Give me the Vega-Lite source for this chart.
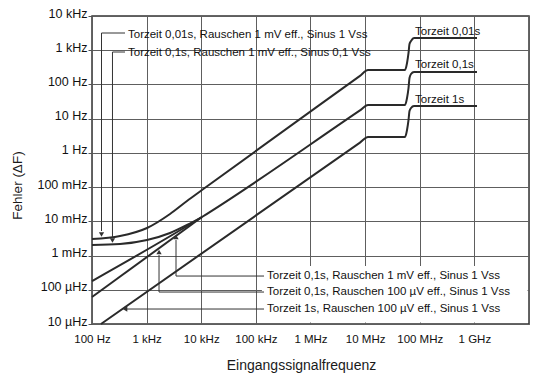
{
  "$schema": "https://vega.github.io/schema/vega-lite/v6.json",
  "width": 437,
  "height": 308,
  "autosize": "none",
  "padding": {"left": 92, "top": 16, "right": 8, "bottom": 55},
  "background": "white",
  "config": {
    "view": {"stroke": "#333333", "strokeWidth": 1.5},
    "font": "Liberation Sans",
    "axis": {"gridColor": "#5e5e5e", "gridWidth": 1, "gridOpacity": 1, "domain": false, "labelFont": "Liberation Sans", "titleFont": "Liberation Sans", "labelColor": "#111111", "titleColor": "#1a1a1a", "titleFontWeight": "normal"}
  },
  "datasets": {
    "box": [{"f": 129000, "f2": 9400000000, "e": 0.00001106, "e2": 0.000494}],
    "curves": [
      {"s": "A", "f": 100, "e": 0.00304},
      {"s": "A", "f": 326, "e": 0.00372},
      {"s": "A", "f": 1016, "e": 0.00638},
      {"s": "A", "f": 2680, "e": 0.01637},
      {"s": "A", "f": 5480, "e": 0.03926},
      {"s": "A", "f": 10300, "e": 0.0822},
      {"s": "A", "f": 8050000, "e": 178.7},
      {"s": "A", "f": 11300000, "e": 264},
      {"s": "A", "f": 53700000, "e": 264},
      {"s": "A", "f": 58500000, "e": 424},
      {"s": "A", "f": 62300000, "e": 830},
      {"s": "A", "f": 64900000, "e": 1520},
      {"s": "A", "f": 69200000, "e": 1858},
      {"s": "A", "f": 78500000, "e": 2275},
      {"s": "A", "f": 1117000000, "e": 2275},
      {"s": "B", "f": 100, "e": 0.00203},
      {"s": "B", "f": 326, "e": 0.00217},
      {"s": "B", "f": 1016, "e": 0.00284},
      {"s": "B", "f": 2680, "e": 0.00456},
      {"s": "B", "f": 5480, "e": 0.00782},
      {"s": "B", "f": 10300, "e": 0.01337},
      {"s": "C", "f": 100, "e": 0.00018},
      {"s": "C", "f": 10300, "e": 0.01337},
      {"s": "C", "f": 8050000, "e": 17.4},
      {"s": "C", "f": 11300000, "e": 25.1},
      {"s": "C", "f": 53700000, "e": 25.1},
      {"s": "C", "f": 58500000, "e": 40.2},
      {"s": "C", "f": 62300000, "e": 78.7},
      {"s": "C", "f": 64900000, "e": 154},
      {"s": "C", "f": 69200000, "e": 202},
      {"s": "C", "f": 78500000, "e": 231},
      {"s": "C", "f": 1117000000, "e": 231},
      {"s": "D", "f": 100, "e": 0.0000614},
      {"s": "D", "f": 10300, "e": 0.01337},
      {"s": "E", "f": 146, "e": 0.00001},
      {"s": "E", "f": 8050000, "e": 2.0},
      {"s": "E", "f": 11300000, "e": 2.91},
      {"s": "E", "f": 53700000, "e": 2.91},
      {"s": "E", "f": 58500000, "e": 4.67},
      {"s": "E", "f": 62300000, "e": 9.15},
      {"s": "E", "f": 64900000, "e": 16.7},
      {"s": "E", "f": 69200000, "e": 20.5},
      {"s": "E", "f": 78500000, "e": 23.4},
      {"s": "E", "f": 1117000000, "e": 23.4}
    ],
    "leaders": [
      {"id": "L1", "o": 1, "f": 402, "e": 3184},
      {"id": "L1", "o": 2, "f": 149.3, "e": 3184},
      {"id": "L1", "o": 3, "f": 149.3, "e": 0.00521},
      {"id": "L2", "o": 1, "f": 402, "e": 887},
      {"id": "L2", "o": 2, "f": 237, "e": 887},
      {"id": "L2", "o": 3, "f": 237, "e": 0.00326},
      {"id": "L3", "o": 1, "f": 141000, "e": 0.000252},
      {"id": "L3", "o": 2, "f": 3451, "e": 0.000252},
      {"id": "L3", "o": 3, "f": 3451, "e": 0.00284},
      {"id": "L4", "o": 1, "f": 141000, "e": 0.0000859},
      {"id": "L4", "o": 2, "f": 1687, "e": 0.0000859},
      {"id": "L4", "o": 3, "f": 1687, "e": 0.00104},
      {"id": "L5", "o": 1, "f": 141000, "e": 0.0000274},
      {"id": "L5", "o": 2, "f": 437, "e": 0.0000274}
    ],
    "arrows": [
      {"dir": "down", "f": 149.3, "e": 0.00412},
      {"dir": "down", "f": 237, "e": 0.00275},
      {"dir": "up", "f": 3451, "e": 0.00348},
      {"dir": "up", "f": 1687, "e": 0.00127},
      {"dir": "left", "f": 402, "e": 0.0000274}
    ],
    "notes": [
      {"f": 456, "e": 2786, "t": "Torzeit 0,01s, Rauschen 1 mV eff., Sinus 1 Vss"},
      {"f": 456, "e": 830, "t": "Torzeit 0,1s, Rauschen 1 mV eff., Sinus 0,1 Vss"},
      {"f": 160000, "e": 0.000252, "t": "Torzeit 0,1s, Rauschen 1 mV eff., Sinus 1 Vss"},
      {"f": 160000, "e": 0.0000859, "t": "Torzeit 0,1s, Rauschen 100 µV eff., Sinus 1 Vss"},
      {"f": 160000, "e": 0.0000274, "t": "Torzeit 1s, Rauschen 100 µV eff., Sinus 1 Vss"},
      {"f": 81800000, "e": 3404, "t": "Torzeit 0,01s"},
      {"f": 81800000, "e": 370, "t": "Torzeit 0,1s"},
      {"f": 81800000, "e": 35.1, "t": "Torzeit 1s"}
    ]
  },
  "encoding": {
    "x": {
      "field": "f", "type": "quantitative",
      "scale": {"type": "log", "domain": [100, 10000000000], "nice": false, "zero": false},
      "axis": {
        "title": "Eingangssignalfrequenz",
        "values": [100, 1000, 10000, 100000, 1000000, 10000000, 100000000, 1000000000, 10000000000],
        "labelExpr": "['100 Hz','1 kHz','10 kHz','100 kHz','1 MHz','10 MHz','100 MHz','1 GHz',''][round(log(datum.value)/LN10)-2]",
        "grid": true, "ticks": false, "labelPadding": 9, "labelFontSize": 11.5,
        "labelFlush": false, "labelOverlap": false,
        "titleFontSize": 14, "titleX": 209, "titleY": 41, "titleAlign": "center", "titleBaseline": "middle",
        "encode": {"labels": {"update": {"dx": {"signal": "-3-1.6*(round(log(datum.value)/LN10)-2)"}}}}
      }
    },
    "y": {
      "field": "e", "type": "quantitative",
      "scale": {"type": "log", "domain": [0.00001, 10000], "nice": false, "zero": false},
      "axis": {
        "title": "Fehler (ΔF)",
        "values": [0.00001, 0.0001, 0.001, 0.01, 0.1, 1, 10, 100, 1000, 10000],
        "labelExpr": "['10 µHz','100 µHz','1 mHz','10 mHz','100 mHz','1 Hz','10 Hz','100 Hz','1 kHz','10 kHz'][round(log(datum.value)/LN10)+5]",
        "grid": true, "ticks": true, "tickSize": 4, "tickColor": "#555555", "labelPadding": 1,
        "labelFontSize": 12.5, "labelOffset": -3, "labelFlush": false, "labelOverlap": false,
        "titleFontSize": 13.5, "titleX": -75, "titleY": 169, "titleAngle": 270, "titleAlign": "center", "titleBaseline": "middle"
      }
    }
  },
  "layer": [
    {
      "data": {"name": "box"},
      "mark": {"type": "rect", "fill": "white", "stroke": null},
      "encoding": {"x2": {"field": "f2"}, "y2": {"field": "e2"}}
    },
    {
      "data": {"name": "curves"},
      "mark": {"type": "line", "interpolate": "monotone", "color": "#2a2a2a", "strokeWidth": 2},
      "encoding": {"detail": {"field": "s", "type": "nominal"}}
    },
    {
      "data": {"name": "leaders"},
      "mark": {"type": "line", "interpolate": "linear", "color": "#333333", "strokeWidth": 1},
      "encoding": {"detail": {"field": "id", "type": "nominal"}, "order": {"field": "o", "type": "quantitative"}}
    },
    {
      "data": {"name": "arrows"},
      "mark": {"type": "point", "filled": true, "size": 28, "color": "#333333", "opacity": 1},
      "encoding": {"shape": {"field": "dir", "type": "nominal", "scale": {"domain": ["down", "up", "left"], "range": ["triangle-down", "triangle-up", "triangle-left"]}, "legend": null}}
    },
    {
      "data": {"name": "notes"},
      "mark": {"type": "text", "align": "left", "baseline": "middle", "fontSize": 11.5, "color": "#111111", "font": "Liberation Sans"},
      "encoding": {"text": {"field": "t", "type": "nominal"}}
    }
  ]
}
